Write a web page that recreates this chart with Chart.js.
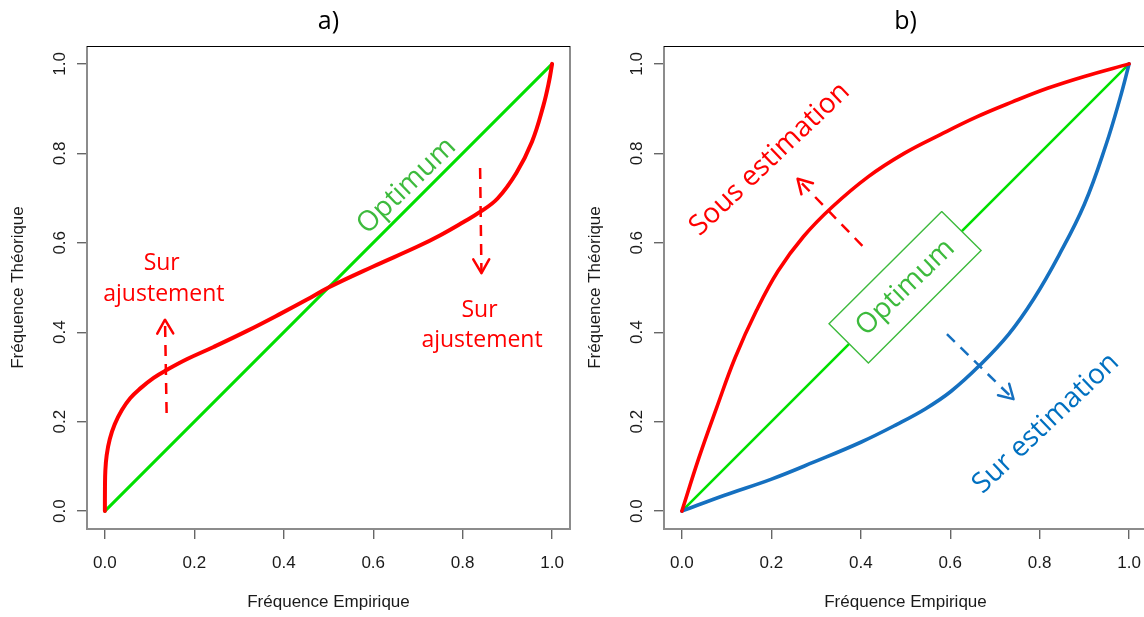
<!DOCTYPE html>
<html><head><meta charset="utf-8">
<script src="https://cdn.jsdelivr.net/npm/chart.js@4.4.0/dist/chart.umd.min.js"></script>
<style>
html,body{margin:0;padding:0;background:#fff;overflow:hidden;width:1144px;height:617px;position:relative;}
canvas{position:absolute;top:0;}
#ca{left:0;} #cb{left:577px;}
</style></head><body>
<canvas id="ca" width="657" height="617"></canvas>
<canvas id="cb" width="657" height="617"></canvas>
<script>
// ---- tick values ----
const X_TICKS = [0, 0.2, 0.4, 0.6, 0.8, 1.0];
const Y_TICKS = [0, 0.2, 0.4, 0.6, 0.8, 1.0];

// ---- panel a ----
const A_OPT_X = [0, 1];
const A_OPT_Y = [0, 1];
const A_FIT_X = [0, 0.0002, 0.001, 0.004, 0.011, 0.022, 0.038, 0.057, 0.08, 0.109, 0.139, 0.184, 0.243, 0.318, 0.392, 0.452, 0.5, 0.6, 0.698, 0.75, 0.801, 0.839, 0.878, 0.92, 0.955, 0.98, 0.993, 1];
const A_FIT_Y = [0, 0.055, 0.09, 0.125, 0.161, 0.194, 0.226, 0.253, 0.275, 0.298, 0.316, 0.34, 0.367, 0.403, 0.441, 0.473, 0.5, 0.547, 0.591, 0.617, 0.646, 0.669, 0.699, 0.756, 0.826, 0.905, 0.96, 1];
const A_ARROW_UP_X = [0.138, 0.1344];
const A_ARROW_UP_Y = [0.2196, 0.428];
const A_ARROW_DOWN_X = [0.839, 0.842];
const A_ARROW_DOWN_Y = [0.767, 0.532];

// ---- panel b ----
const B_OPT_X = [0, 1];
const B_OPT_Y = [0, 1];
const B_UNDER_X = [0, 0.038, 0.078, 0.119, 0.167, 0.215, 0.272, 0.336, 0.417, 0.497, 0.578, 0.658, 0.739, 0.819, 0.9, 1];
const B_UNDER_Y = [0, 0.119, 0.232, 0.343, 0.449, 0.537, 0.614, 0.68, 0.748, 0.8, 0.842, 0.881, 0.915, 0.946, 0.972, 1];
const B_OVER_X = [0, 0.094, 0.199, 0.296, 0.4, 0.481, 0.545, 0.602, 0.666, 0.731, 0.787, 0.843, 0.9, 0.948, 0.98, 1];
const B_OVER_Y = [0, 0.035, 0.071, 0.11, 0.154, 0.194, 0.229, 0.268, 0.326, 0.396, 0.475, 0.572, 0.686, 0.818, 0.924, 1];
const B_ARROW_RED_X = [0.4036, 0.2587];
const B_ARROW_RED_Y = [0.593, 0.743];
const B_ARROW_BLUE_X = [0.5926, 0.7415];
const B_ARROW_BLUE_Y = [0.3956, 0.2504];
const B_BOX_X = [0.581, 0.669, 0.417, 0.329, 0.581];
const B_BOX_Y = [0.670, 0.583, 0.331, 0.419, 0.670];

const RED = '#ff0000', GREEN = '#00e000', TEXTGREEN = '#3dba3d', BLUE = '#1570c0', TEXTBLUE = '#0070c0';
const AXFONT = 'Liberation Sans';
const NOTEFONT = 'Open Sans';

function zip(xs, ys) { return xs.map((x, i) => ({x: x, y: ys[i]})); }

function line(xs, ys, color, width, order, extra) {
  return Object.assign({
    data: zip(xs, ys), showLine: true, borderColor: color, borderWidth: width,
    pointRadius: 0, pointHoverRadius: 0, fill: false, order: order,
    borderCapStyle: 'round', borderJoinStyle: 'round', tension: 0
  }, extra || {});
}

const framePlugin = {
  id: 'frame',
  beforeDatasetsDraw(chart) {
    const {ctx, chartArea: a} = chart;
    ctx.save();
    ctx.strokeStyle = '#8c8c8c'; ctx.lineWidth = 2;
    ctx.beginPath();
    ctx.moveTo(a.left, a.top); ctx.lineTo(a.left, a.bottom); ctx.lineTo(a.right, a.bottom); ctx.lineTo(a.right, a.top);
    ctx.stroke();
    ctx.strokeStyle = '#000'; ctx.lineWidth = 1;
    ctx.beginPath(); ctx.moveTo(a.left, Math.round(a.top) + 0.5); ctx.lineTo(a.right, Math.round(a.top) + 0.5); ctx.stroke();
    ctx.restore();
  }
};

const arrowPlugin = {
  id: 'arrowheads',
  afterDatasetsDraw(chart) {
    const ctx = chart.ctx;
    chart.data.datasets.forEach((ds, i) => {
      if (!ds.arrowHead) return;
      const pts = chart.getDatasetMeta(i).data;
      const tip = pts[pts.length - 1], prev = pts[pts.length - 2];
      const ang = Math.atan2(tip.y - prev.y, tip.x - prev.x);
      const L = 16, w = Math.PI / 6;
      ctx.save();
      ctx.strokeStyle = ds.borderColor; ctx.lineWidth = ds.borderWidth;
      ctx.setLineDash([]); ctx.lineCap = 'round'; ctx.lineJoin = 'round';
      ctx.beginPath();
      ctx.moveTo(tip.x - L * Math.cos(ang - w), tip.y - L * Math.sin(ang - w));
      ctx.lineTo(tip.x, tip.y);
      ctx.lineTo(tip.x - L * Math.cos(ang + w), tip.y - L * Math.sin(ang + w));
      ctx.stroke();
      ctx.restore();
    });
  }
};

function notesPlugin(items) {
  return {
    id: 'notes',
    afterDatasetsDraw(chart) {
      const ctx = chart.ctx, xs = chart.scales.x, ys = chart.scales.y;
      items.forEach(n => {
        ctx.save();
        ctx.translate(xs.getPixelForValue(n.x), ys.getPixelForValue(n.y));
        ctx.rotate((n.rot || 0) * Math.PI / 180);
        ctx.font = n.size + 'px "' + NOTEFONT + '"';
        ctx.fillStyle = n.color;
        ctx.textAlign = 'center';
        ctx.textBaseline = n.baseline || 'alphabetic';
        ctx.fillText(n.text, 0, 0);
        ctx.restore();
      });
    }
  };
}

function makeChart(id, title, datasets, notes) {
  const tickFont = {family: AXFONT, size: 17, lineHeight: 1.2};
  return new Chart(document.getElementById(id), {
    type: 'scatter',
    data: {datasets: datasets},
    options: {
      responsive: false, animation: false, devicePixelRatio: 1,
      layout: {padding: {left: 0, right: 87, top: 0, bottom: 0}},
      plugins: {
        legend: {display: false}, tooltip: {enabled: false},
        title: {display: true, text: title, fullSize: false, color: '#000',
          font: {family: NOTEFONT, size: 25, weight: 'normal', lineHeight: 1.2},
          padding: {top: 7, bottom: 9}}
      },
      scales: {
        x: {
          type: 'linear', min: -0.04, max: 1.04,
          afterBuildTicks: s => { s.ticks = X_TICKS.map(v => ({value: v})); },
          afterFit: s => { s.height = 88; },
          grid: {drawOnChartArea: false, drawTicks: true, tickLength: 10, color: '#666', lineWidth: 1.4},
          border: {display: false},
          ticks: {padding: 14, color: '#1a1a1a', font: tickFont, maxRotation: 0, autoSkip: false,
            callback: v => Number(v).toFixed(1)},
          title: {display: true, text: 'Fréquence Empirique', color: '#1a1a1a', font: tickFont,
            padding: {top: 0, bottom: 4}}
        },
        y: {
          type: 'linear', min: -0.04, max: 1.04,
          afterBuildTicks: s => { s.ticks = Y_TICKS.map(v => ({value: v})); },
          afterFit: s => { s.width = 87; },
          grid: {drawOnChartArea: false, drawTicks: true, tickLength: 10, color: '#666', lineWidth: 1.4},
          border: {display: false},
          ticks: {padding: 5, color: '#1a1a1a', font: tickFont, minRotation: 90, maxRotation: 90,
            crossAlign: 'center', autoSkip: false, callback: v => Number(v).toFixed(1)},
          title: {display: true, text: 'Fréquence Théorique', color: '#1a1a1a', font: tickFont,
            padding: {top: 8, bottom: 0}}
        }
      }
    },
    plugins: [framePlugin, arrowPlugin, notesPlugin(notes)]
  });
}

const SMOOTH = {cubicInterpolationMode: 'default', tension: 0.4};

makeChart('ca', 'a)', [
  line(A_OPT_X, A_OPT_Y, GREEN, 3, 10),
  line(A_FIT_X, A_FIT_Y, RED, 4, 8, SMOOTH),
  line(A_ARROW_UP_X, A_ARROW_UP_Y, RED, 2.5, 5, {borderDash: [11, 8], borderCapStyle: 'butt', arrowHead: true}),
  line(A_ARROW_DOWN_X, A_ARROW_DOWN_Y, RED, 2.5, 5, {borderDash: [11, 8], borderCapStyle: 'butt', arrowHead: true})
], [
  {text: 'Optimum', x: 0.6746, y: 0.727, rot: -44, size: 28, color: TEXTGREEN, baseline: 'middle'},
  {text: 'Sur', x: 0.127, y: 0.5397, size: 23, color: RED},
  {text: 'ajustement', x: 0.132, y: 0.4704, size: 23, color: RED},
  {text: 'Sur', x: 0.8377, y: 0.4351, size: 23, color: RED},
  {text: 'ajustement', x: 0.8433, y: 0.3674, size: 23, color: RED}
]);

makeChart('cb', 'b)', [
  line(B_OPT_X, B_OPT_Y, GREEN, 2.6, 10),
  line(B_BOX_X, B_BOX_Y, TEXTGREEN, 1.4, 9, {fill: 'shape', backgroundColor: '#ffffff', borderCapStyle: 'butt', borderJoinStyle: 'miter'}),
  line(B_OVER_X, B_OVER_Y, BLUE, 3.6, 8, SMOOTH),
  line(B_UNDER_X, B_UNDER_Y, RED, 3.6, 7, SMOOTH),
  line(B_ARROW_RED_X, B_ARROW_RED_Y, RED, 2.5, 5, {borderDash: [11, 8], borderCapStyle: 'butt', arrowHead: true}),
  line(B_ARROW_BLUE_X, B_ARROW_BLUE_Y, BLUE, 2.5, 5, {borderDash: [11, 8], borderCapStyle: 'butt', arrowHead: true})
], [
  {text: 'Optimum', x: 0.5, y: 0.5, rot: -44, size: 28, color: TEXTGREEN, baseline: 'middle'},
  {text: 'Sous estimation', x: 0.1966, y: 0.787, rot: -43.5, size: 28, color: RED, baseline: 'middle'},
  {text: 'Sur estimation', x: 0.814, y: 0.196, rot: -43.5, size: 28, color: TEXTBLUE, baseline: 'middle'}
]);
</script></body></html>
